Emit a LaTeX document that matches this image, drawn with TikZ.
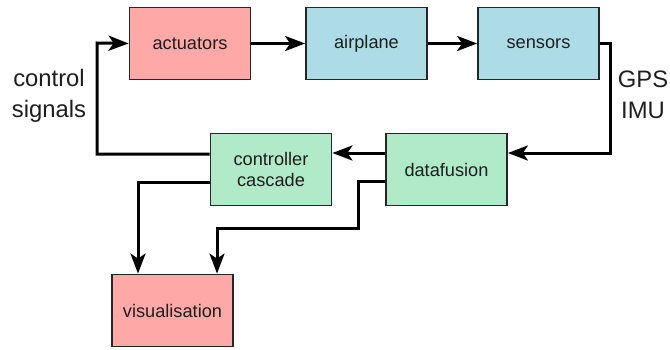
\documentclass[tikz,border=0pt]{standalone}
\usepackage{fontspec}
\setmainfont{Liberation Sans}
\usetikzlibrary{arrows.meta}
\definecolor{pinkfill}{RGB}{255,168,168}
\definecolor{bluefill}{RGB}{173,220,231}
\definecolor{greenfill}{RGB}{176,234,200}
\definecolor{txt}{RGB}{30,30,30}
\begin{document}
\begin{tikzpicture}[x=1pt,y=-1pt,
  box/.style={draw=black!85,line width=1.8pt,minimum width=121pt,minimum height=72pt,inner sep=0pt,
    align=center,text=txt,font=\fontsize{18.2}{21}\selectfont},
  conn/.style={line width=3pt,-{Stealth[length=20pt,width=15pt,inset=5pt]}},
  lbl/.style={align=center,text=txt,font=\fontsize{23.8}{31}\selectfont}]
\useasboundingbox (0,0) rectangle (670,349);
\node[box,fill=pinkfill] (act) at (190,43.5) {actuators};
\node[box,fill=bluefill] (air) at (366.5,43.5) {airplane};
\node[box,fill=bluefill] (sen) at (538.5,43.5) {sensors};
\node[box,fill=greenfill] (df) at (446.5,169.5) {datafusion};
\node[box,fill=greenfill] (cc) at (271,169.5) {controller\\cascade};
\node[box,fill=pinkfill] (vis) at (172.5,310.5) {visualisation};
\node[lbl] (cs) at (49,96) {control\\signals};
\node[lbl] (gps) at (643,95) {GPS\\IMU};
\draw[conn] (act) -- (air);
\draw[conn] (air) -- (sen);
\draw[conn] (sen.east) -| (610,153) -- ([yshift=16.5pt]df.east);
\draw[conn] ([yshift=16.5pt]df.west) -- ([yshift=16.5pt]cc.east);
\draw[conn] ([yshift=15.5pt]cc.west) -| (97,43) -- (act.west);
\draw[conn] ([yshift=-12.5pt]cc.west) -| (vis.north -| 138,0);
\draw[conn] ([yshift=-11.5pt]df.west) -| (358,228) -| (vis.north -| 217,0);
\end{tikzpicture}
\end{document}
